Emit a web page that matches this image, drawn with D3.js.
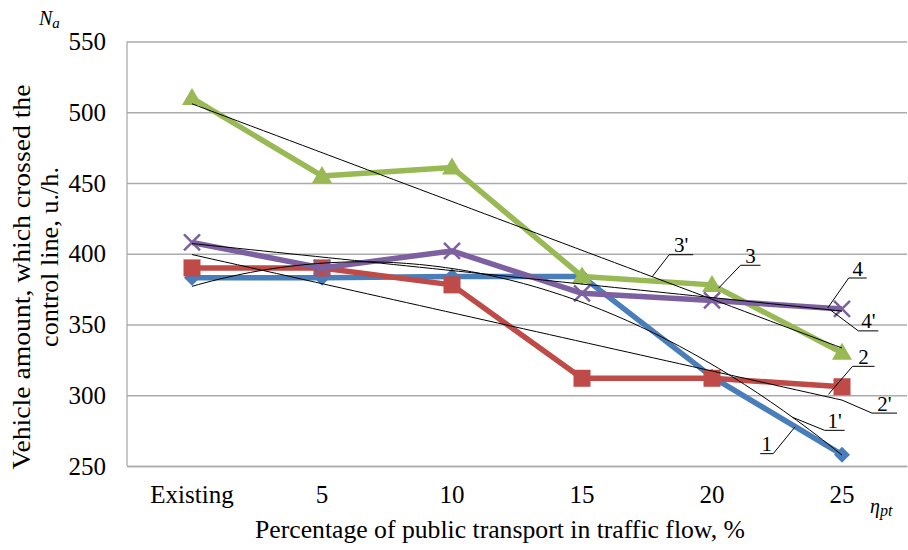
<!DOCTYPE html>
<html>
<head>
<meta charset="utf-8">
<script src="https://cdn.jsdelivr.net/npm/d3@7"></script>
</head>
<body style="margin:0">
<script>
var categories = ["Existing","5","10","15","20","25"];
var series1 = [383,383,384,384,313,258];
var series2 = [390,390,378,312,312,306];
var series3 = [510,455,461,384,378,330];
var series4 = [408,390,402,372,367,361];
var yTicks = [250,300,350,400,450,500,550];

var width = 908;
var height = 550;
var margin = {top:41.5, right:1, bottom:84, left:127};

var svg = d3.select("body")
.append("svg")
.attr("width",width)
.attr("height",height);

var xScale = d3.scaleBand()
.domain(categories)
.range([margin.left, width - margin.right]);

var yScale = d3.scaleLinear()
.domain([250,550])
.range([height - margin.bottom, margin.top]);

// index -> pixel, for lines between categories
var xIdx = d3.scaleLinear()
.domain([0, categories.length - 1])
.range([xScale(categories[0]) + xScale.bandwidth()/2, xScale(categories[categories.length-1]) + xScale.bandwidth()/2]);

// grid
var yAxis = d3.axisLeft(yScale)
.tickValues(yTicks)
.tickSize(-(width - margin.left - margin.right))
.tickPadding(21);

var gy = svg.append("g")
.attr("transform","translate(" + margin.left + ",0)")
.call(yAxis);
gy.select(".domain").remove();
gy.selectAll("line").attr("stroke","#ababab").attr("stroke-width",1.3);
gy.selectAll("text").attr("fill","#000").style("font-size","25px");

svg.append("line")
.attr("x1",margin.left).attr("x2",margin.left)
.attr("y1",yScale(550)).attr("y2",yScale(250))
.attr("stroke","#ababab").attr("stroke-width",1.3);

var xAxis = d3.axisBottom(xScale).tickSize(0).tickPadding(19);
var gx = svg.append("g")
.attr("transform","translate(0," + yScale(250) + ")")
.call(xAxis);
gx.select(".domain").attr("stroke","#ababab").attr("stroke-width",1.3);
gx.selectAll("text").attr("fill","#000").style("font-size","25px");

// least squares fit, degree 1 or 2
function fit(ys, deg){
	var n = ys.length, xs = d3.range(n);
	var m = deg + 1;
	var A = [], b = [];
	for (var r = 0; r < m; r++){
		A.push([]);
		for (var c = 0; c < m; c++){
			A[r].push(d3.sum(xs, function(x){ return Math.pow(x, r + c); }));
		}
		b.push(d3.sum(xs, function(x,i){ return ys[i] * Math.pow(x, r); }));
	}
	// gaussian elimination
	for (var k = 0; k < m; k++){
		for (var i = k + 1; i < m; i++){
			var f = A[i][k] / A[k][k];
			for (var j = k; j < m; j++) A[i][j] -= f * A[k][j];
			b[i] -= f * b[k];
		}
	}
	var coef = new Array(m);
	for (var i2 = m - 1; i2 >= 0; i2--){
		var s = b[i2];
		for (var j2 = i2 + 1; j2 < m; j2++) s -= A[i2][j2] * coef[j2];
		coef[i2] = s / A[i2][i2];
	}
	return function(x){
		return d3.sum(coef, function(c, p){ return c * Math.pow(x, p); });
	};
}

var seriesList = [
	{key:"s1", values:series1, color:"#4a7ebb", marker:"diamond", trendDeg:2},
	{key:"s2", values:series2, color:"#be4b48", marker:"square", trendDeg:1},
	{key:"s3", values:series3, color:"#98b954", marker:"triangle", trendDeg:1},
	{key:"s4", values:series4, color:"#7d60a0", marker:"cross", trendDeg:1}
];
seriesList.forEach(function(s){ s.trend = fit(s.values, s.trendDeg); });

var line = d3.line()
.x(function(d,i){ return xIdx(i); })
.y(function(d){ return yScale(d); });

seriesList.forEach(function(s){
	var g = svg.append("g");
	g.append("path")
	.attr("d", line(s.values))
	.attr("fill","none")
	.attr("stroke", s.color)
	.attr("stroke-width",5.5)
	.attr("stroke-linejoin","round");

	var pts = g.selectAll(".pt")
	.data(s.values)
	.enter()
	.append("g")
	.attr("transform", function(d,i){ return "translate(" + xIdx(i) + "," + yScale(d) + ")"; });

	if (s.marker == "diamond"){
		pts.append("path").attr("d","M0,-8L8,0L0,8L-8,0Z").attr("fill",s.color);
	} else if (s.marker == "square"){
		pts.append("rect").attr("x",-8.5).attr("y",-8.5).attr("width",17).attr("height",17).attr("fill",s.color);
	} else if (s.marker == "triangle"){
		pts.append("path").attr("d","M0,-10L10,7L-10,7Z").attr("fill",s.color);
	} else {
		pts.append("path").attr("d","M-8,-8L8,8M-8,8L8,-8")
		.attr("stroke",s.color).attr("stroke-width",2.5).attr("fill","none");
	}
});

// trend lines
seriesList.forEach(function(s){
	var ts = d3.range(0, 5.0001, 0.05);
	svg.append("path")
	.attr("d", d3.line()
		.x(function(t){ return xIdx(t); })
		.y(function(t){ return yScale(s.trend(t)); })(ts))
	.attr("fill","none")
	.attr("stroke","#000")
	.attr("stroke-width",1);
});

// callout labels
var byKey = {};
seriesList.forEach(function(s){ byKey[s.key] = s; });

function seriesAt(s, t){
	var i = Math.min(Math.floor(t), s.values.length - 2);
	var f = t - i;
	return s.values[i] * (1 - f) + s.values[i+1] * f;
}

var callouts = [
	{text:"3'", key:"s3", trend:true,  t:3.54, dx:17, dy:-22, w:24, side:"left"},
	{text:"3",  key:"s3", trend:false, t:4.05, dx:22, dy:-23, w:20, side:"left"},
	{text:"4",  key:"s4", trend:false, t:4.89, dx:21, dy:-30, w:18, side:"left"},
	{text:"4'", key:"s4", trend:true,  t:4.91, dx:28, dy:21,  w:20, side:"left"},
	{text:"2",  key:"s2", trend:false, t:4.95, dx:24, dy:-28, w:22, side:"left"},
	{text:"2'", key:"s2", trend:true,  t:5,    dx:30, dy:13,  w:25, side:"left"},
	{text:"1'", key:"s1", trend:true,  t:4.62, dx:32, dy:13,  w:20, side:"left"},
	{text:"1",  key:"s1", trend:false, t:4.64, dx:-22, dy:27, w:13, side:"right"}
];

callouts.forEach(function(c){
	var s = byKey[c.key];
	var ax = xIdx(c.t);
	var ay = yScale(c.trend ? s.trend(c.t) : seriesAt(s, c.t));
	if (c.key == "s2" && !c.trend) { ax -= 7; ay += 8; }
	var px = ax + c.dx, py = ay + c.dy;
	var x0 = c.side == "left" ? px : px - c.w;
	svg.append("line").attr("x1",ax).attr("y1",ay).attr("x2",px).attr("y2",py)
	.attr("stroke","#000").attr("stroke-width",1);
	svg.append("line").attr("x1",x0).attr("y1",py).attr("x2",x0 + c.w).attr("y2",py)
	.attr("stroke","#000").attr("stroke-width",1);
	svg.append("text")
	.attr("x", x0 + c.w/2)
	.attr("y", py - 2.5)
	.attr("text-anchor","middle")
	.style("font-size","21px")
	.text(c.text);
});

// axis titles
svg.append("text")
.attr("x", 500)
.attr("y", 538)
.attr("text-anchor","middle")
.attr("textLength",490)
.attr("lengthAdjust","spacingAndGlyphs")
.style("font-size","25px")
.text("Percentage of public transport in traffic flow, %");

var yTitle = svg.append("text")
.attr("transform","rotate(-90)")
.attr("text-anchor","middle")
.style("font-size","26px");
yTitle.append("tspan").attr("x",-277).attr("y",30)
.attr("textLength",385).attr("lengthAdjust","spacingAndGlyphs")
.text("Vehicle amount, which crossed the");
yTitle.append("tspan").attr("x",-257).attr("y",58)
.attr("textLength",180).attr("lengthAdjust","spacingAndGlyphs")
.text("control line, u./h.");

var na = svg.append("text")
.attr("x",39).attr("y",25)
.style("font-size","20px")
.style("font-style","italic");
na.append("tspan").text("N");
na.append("tspan").attr("dy",3).style("font-size","15px").text("a");

var eta = svg.append("text")
.attr("x",870).attr("y",513)
.style("font-size","20px")
.style("font-style","italic");
eta.append("tspan").text("η");
eta.append("tspan").attr("dy",3).style("font-size","16px").text("pt");

svg.selectAll("text").style("font-family","'Liberation Serif'");
</script>
</body>
</html>
